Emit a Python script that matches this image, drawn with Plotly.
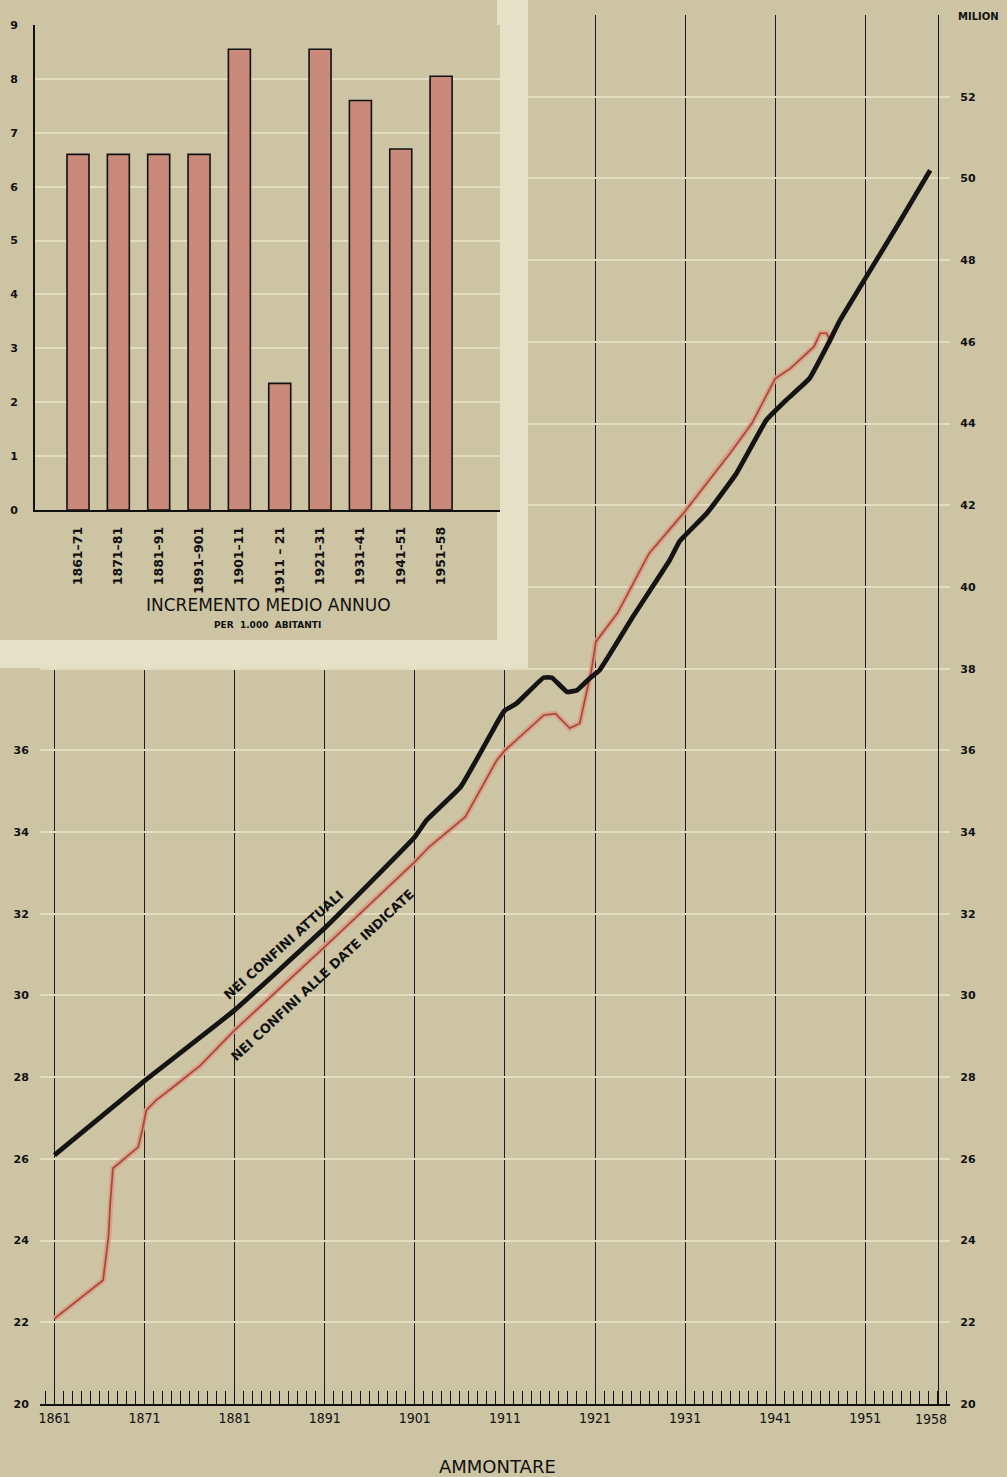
import plotly.graph_objects as go

# ---------------- data ----------------
# inset: average annual increase per 1,000 inhabitants
periods = ["1861–71", "1871–81", "1881–91", "1891–901", "1901–11",
           "1911 – 21", "1921–31", "1931–41", "1941–51", "1951–58"]
increment = [6.6, 6.6, 6.6, 6.6, 8.55, 2.35, 8.55, 7.6, 6.7, 8.05]

# population (millions) within present borders
attuali_years = [1861, 1871, 1881, 1891, 1901, 1902.3, 1906.1, 1910.5, 1911, 1912.3,
                 1915.3, 1916.2, 1917.9, 1919, 1920.4, 1921.5, 1925.2, 1929.3, 1930.4,
                 1933.4, 1936.7, 1940, 1942.2, 1944.8, 1946.9, 1948.2, 1951.1, 1954.5, 1958.2]
attuali_pop = [26.09, 27.91, 29.64, 31.65, 33.88, 34.29, 35.11, 36.82, 36.98, 37.15,
               37.78, 37.78, 37.43, 37.47, 37.76, 37.96, 39.27, 40.66, 41.12,
               41.80, 42.78, 44.08, 44.57, 45.10, 45.96, 46.53, 47.59, 48.82, 50.20]

# population (millions) within the borders of each date
date_years = [1861, 1866.4, 1867.0, 1867.2, 1867.5, 1870.3, 1870.8, 1871.2, 1872.3, 1874.2,
              1877.2, 1881, 1891, 1901, 1902.6, 1906.6, 1910.1, 1911, 1915.3, 1916.6,
              1918.2, 1919.3, 1920.6, 1921.1, 1923.5, 1927, 1930.8, 1936, 1938.4, 1941,
              1942.7, 1945.3, 1946.0, 1946.7, 1947.1, 1946.9]
date_pop = [22.09, 23.03, 24.09, 24.92, 25.77, 26.29, 26.75, 27.19, 27.44, 27.76,
            28.29, 29.15, 31.19, 33.27, 33.64, 34.37, 35.76, 36.00, 36.86, 36.90,
            36.54, 36.66, 37.96, 38.66, 39.36, 40.82, 41.80, 43.27, 44.00, 45.10,
            45.35, 45.88, 46.21, 46.21, 46.04, 45.95]

left_ticks = [20, 22, 24, 26, 28, 30, 32, 34, 36]
right_ticks = [20, 22, 24, 26, 28, 30, 32, 34, 36, 38, 40, 42, 44, 46, 48, 50, 52]
inset_ticks = [0, 1, 2, 3, 4, 5, 6, 7, 8, 9]

# ---------------- layout geometry ----------------
W, H = 1007, 1477
def fx(px): return px / W
def fy(py): return 1 - py / H

X_RANGE = [1859.4, 1960.4]   # main plot spans px 40..950
Y_RANGE = [20, 54.0]         # main plot spans px 1404..15
MX0, MX1, MY0, MY1 = 40, 950, 1404, 15

def px2year(px): return X_RANGE[0] + (px - MX0) * (X_RANGE[1] - X_RANGE[0]) / (MX1 - MX0)
def py2val(py): return Y_RANGE[0] + (MY0 - py) * (Y_RANGE[1] - Y_RANGE[0]) / (MY0 - MY1)

BG = "#cdc4a3"
INSET_BG = BG
CREAM = "#e4e1c7"
GRID_LIGHT = "#e2dcc0"
NUM_FONT = dict(family="DejaVu Sans, Verdana, sans-serif", size=11, color="#111", weight="bold")
YEAR_FONT = dict(family="DejaVu Sans Condensed, Liberation Sans Narrow, Liberation Sans, sans-serif",
                 size=14, color="#111")

fig = go.Figure()

# inset bars
fig.add_trace(go.Bar(x=periods, y=increment, xaxis="x2", yaxis="y2", width=0.545,
                     marker=dict(color="#c9897b", line=dict(color="#111", width=1.6)),
                     showlegend=False, hoverinfo="x+y"))

# red line (halo on y, core on the overlaid right axis y3 - same range)
fig.add_trace(go.Scatter(x=date_years, y=date_pop, mode="lines", xaxis="x", yaxis="y",
                         line=dict(color="#dc9c89", width=5.5), opacity=0.9,
                         showlegend=False, hoverinfo="skip"))
fig.add_trace(go.Scatter(x=date_years, y=date_pop, mode="lines", xaxis="x", yaxis="y3",
                         line=dict(color="#a64a36", width=1.7),
                         showlegend=False, name="Nei confini alle date indicate"))
# black line
fig.add_trace(go.Scatter(x=attuali_years, y=attuali_pop, mode="lines", xaxis="x", yaxis="y3",
                         line=dict(color="#141414", width=4.8, shape="spline", smoothing=0.3),
                         showlegend=False, name="Nei confini attuali"))

# inset panel (cream frame + tan panel), drawn between the main grid and the traces
shapes = [
    dict(type="rect", xref="x", yref="y", layer="between",
         x0=X_RANGE[0] - 5, x1=px2year(528), y0=py2val(668), y1=Y_RANGE[1] + 2,
         fillcolor=CREAM, line=dict(width=0)),
    dict(type="rect", xref="x", yref="y", layer="between",
         x0=X_RANGE[0] - 5, x1=px2year(497), y0=py2val(640), y1=Y_RANGE[1] + 2,
         fillcolor=INSET_BG, line=dict(width=0)),
    dict(type="rect", xref="paper", yref="paper", layer="below",
         x0=0, x1=fx(528), y0=fy(668), y1=1, fillcolor=CREAM, line=dict(width=0)),
    dict(type="rect", xref="paper", yref="paper", layer="below",
         x0=0, x1=fx(497), y0=fy(640), y1=1, fillcolor=INSET_BG, line=dict(width=0)),
]

LBL_FONT = dict(family="DejaVu Sans, sans-serif", size=13, color="#111", weight="bold")
annotations = [
    dict(text="NEI CONFINI ATTUALI", x=px2year(283), y=py2val(945), xref="x", yref="y",
         showarrow=False, textangle=-42, xanchor="center", yanchor="middle", font=LBL_FONT),
    dict(text="NEI CONFINI ALLE DATE INDICATE", x=px2year(322), y=py2val(975), xref="x", yref="y",
         showarrow=False, textangle=-43, xanchor="center", yanchor="middle", font=LBL_FONT),
    dict(text="1958", x=1958.3, y=fy(1419), xref="x", yref="paper", showarrow=False,
         xanchor="center", yanchor="middle", font=YEAR_FONT),
    dict(text="MILION", x=fx(956), y=fy(17), xref="paper", yref="paper", showarrow=False,
         xanchor="left", yanchor="middle",
         font=dict(family="DejaVu Sans, sans-serif", size=10, color="#111", weight="bold")),
    dict(text="AMMONTARE", x=fx(497), y=fy(1466), xref="paper", yref="paper", showarrow=False,
         xanchor="center", yanchor="middle",
         font=dict(family="DejaVu Sans, sans-serif", size=18, color="#111")),
    dict(text="INCREMENTO MEDIO ANNUO", x=fx(268), y=fy(605), xref="paper", yref="paper",
         showarrow=False, xanchor="center", yanchor="middle",
         font=dict(family="DejaVu Sans, sans-serif", size=17, color="#111")),
    dict(text="PER  1.000  ABITANTI", x=fx(267), y=fy(625), xref="paper", yref="paper",
         showarrow=False, xanchor="center", yanchor="middle",
         font=dict(family="DejaVu Sans, sans-serif", size=9, color="#111", weight="bold")),
]

fig.update_layout(
    width=W, height=H,
    margin=dict(l=0, r=0, t=0, b=0, pad=0, autoexpand=False),
    paper_bgcolor=BG, plot_bgcolor=BG,
    shapes=shapes, annotations=annotations,
    xaxis=dict(domain=[fx(MX0), fx(MX1)], range=X_RANGE, anchor="y", automargin=False,
               tick0=1861, dtick=10, ticks="inside", ticklen=13, tickwidth=1.2, tickcolor="#111",
               showgrid=True, gridcolor="#1b1b1b", gridwidth=1.3, zeroline=False,
               showline=True, linecolor="#111", linewidth=1.8, tickfont=YEAR_FONT,
               minor=dict(tick0=1861, dtick=1, ticks="inside", ticklen=13, tickwidth=1.1,
                          tickcolor="#111", showgrid=False)),
    yaxis=dict(domain=[fy(MY0), fy(MY1)], range=Y_RANGE, anchor="x", automargin=False,
               tickmode="array", tickvals=left_ticks, showgrid=False, zeroline=False,
               showline=False, ticks="outside", ticklen=8, tickcolor="rgba(0,0,0,0)",
               tickfont=NUM_FONT),
    yaxis3=dict(overlaying="y", side="right", anchor="free", position=fx(938), range=Y_RANGE,
                automargin=False,
                tickmode="array", tickvals=right_ticks, showgrid=True, gridcolor=GRID_LIGHT,
                gridwidth=2, zeroline=False, showline=True, linecolor="#111", linewidth=1.3,
                ticks="outside", ticklen=19, tickcolor="rgba(0,0,0,0)", tickfont=NUM_FONT),
    xaxis2=dict(domain=[fx(35), fx(500)], anchor="y2", type="category", automargin=False,
                range=[-1.066, 10.46], showgrid=False, zeroline=False,
                showline=True, linecolor="#111", linewidth=1.6,
                ticks="outside", ticklen=10, tickcolor="rgba(0,0,0,0)", tickangle=-90,
                tickfont=dict(family="DejaVu Sans, sans-serif", size=12.5, color="#111",
                              weight="bold")),
    yaxis2=dict(domain=[fy(510), fy(25)], anchor="x2", range=[0, 9], automargin=False,
                tickmode="array", tickvals=inset_ticks, showgrid=True, gridcolor=GRID_LIGHT,
                gridwidth=2, zeroline=False, showline=True, linecolor="#111", linewidth=1.6,
                ticks="outside", ticklen=13, tickcolor="rgba(0,0,0,0)", tickfont=NUM_FONT),
    bargap=0.4,
)

fig.write_html(
    "out.html",
    config={"displayModeBar": False},
    post_script=("document.body.style.margin='0';document.body.style.padding='0';"
                 "document.documentElement.style.overflow='hidden';"),
)
